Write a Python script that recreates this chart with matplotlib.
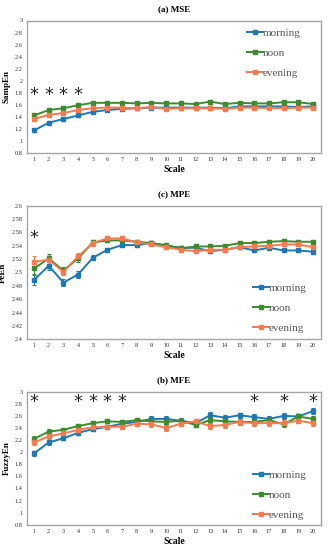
import matplotlib
matplotlib.use("Agg")
import matplotlib.pyplot as plt
from matplotlib.lines import Line2D
import numpy as np

plt.rcParams['font.family'] = ['Liberation Serif', 'DejaVu Serif']

# scale axis
scales = list(range(1, 21))

# (a) MSE - SampEn
mse_morning = [1.17, 1.30, 1.36, 1.42, 1.48, 1.51, 1.53, 1.54, 1.55, 1.55,
               1.55, 1.55, 1.55, 1.54, 1.57, 1.57, 1.57, 1.57, 1.56, 1.57]
mse_noon = [1.42, 1.51, 1.54, 1.59, 1.63, 1.63, 1.63, 1.62, 1.63, 1.62,
            1.62, 1.61, 1.65, 1.61, 1.63, 1.62, 1.62, 1.64, 1.64, 1.61]
mse_evening = [1.36, 1.43, 1.46, 1.51, 1.54, 1.55, 1.55, 1.54, 1.56, 1.53,
               1.54, 1.54, 1.54, 1.53, 1.55, 1.55, 1.54, 1.54, 1.55, 1.55]
mse_err = [0.03, 0.025, 0.025, 0.025, 0.025, 0.02, 0.02, 0.02, 0.02, 0.02,
           0.02, 0.02, 0.02, 0.02, 0.02, 0.02, 0.02, 0.02, 0.02, 0.02]
mse_stars = [1, 2, 3, 4]

# (c) MPE - PeEn
mpe_morning = [2.489, 2.510, 2.485, 2.497, 2.522, 2.534, 2.541, 2.541, 2.544, 2.540,
               2.537, 2.537, 2.532, 2.534, 2.538, 2.533, 2.537, 2.533, 2.533, 2.531]
mpe_noon = [2.506, 2.521, 2.503, 2.521, 2.545, 2.548, 2.548, 2.546, 2.544, 2.541,
            2.536, 2.539, 2.539, 2.540, 2.544, 2.544, 2.546, 2.547, 2.546, 2.546]
mpe_evening = [2.516, 2.519, 2.501, 2.524, 2.544, 2.551, 2.551, 2.545, 2.542, 2.538,
               2.534, 2.532, 2.534, 2.534, 2.538, 2.539, 2.540, 2.542, 2.542, 2.538]
mpe_err = [0.008, 0.006, 0.005, 0.005, 0.004, 0.003, 0.003, 0.003, 0.003, 0.003,
           0.003, 0.003, 0.003, 0.003, 0.003, 0.003, 0.003, 0.003, 0.003, 0.003]
mpe_stars = [1]

# (b) MFE - FuzzyEn
mfe_morning = [1.98, 2.16, 2.23, 2.32, 2.38, 2.42, 2.47, 2.50, 2.55, 2.55,
               2.52, 2.48, 2.61, 2.57, 2.61, 2.58, 2.55, 2.60, 2.59, 2.68]
mfe_noon = [2.22, 2.34, 2.37, 2.43, 2.48, 2.51, 2.50, 2.53, 2.51, 2.50,
            2.52, 2.45, 2.53, 2.51, 2.50, 2.50, 2.53, 2.46, 2.59, 2.55]
mfe_evening = [2.16, 2.26, 2.31, 2.37, 2.41, 2.42, 2.42, 2.47, 2.46, 2.40,
               2.47, 2.51, 2.43, 2.45, 2.50, 2.48, 2.48, 2.48, 2.52, 2.48]
mfe_err = [0.04, 0.035, 0.035, 0.035, 0.035, 0.035, 0.04, 0.04, 0.045, 0.045,
           0.04, 0.04, 0.05, 0.05, 0.045, 0.045, 0.04, 0.045, 0.045, 0.05]
mfe_stars = [1, 4, 5, 6, 7, 16, 18, 20]

colors = {'morning': '#1F77B4', 'noon': '#3D8B2F', 'evening': '#F47A50'}


def fmt(v):
    s = ('%.2f' % v).rstrip('0').rstrip('.')
    return s


def panel(ax, title, ylabel, data, err, yticks, star_y, stars, leg_anchor):
    handles = []
    for name, vals in data:
        ax.errorbar(scales, vals, yerr=err, color=colors[name], marker='s',
                    markersize=2.5, linewidth=1.4, elinewidth=0.8, capsize=1.6,
                    capthick=0.8)
        handles.append(Line2D([], [], color=colors[name], marker='s',
                              markersize=2.5, linewidth=1.4, label=name))
    for s in stars:
        ax.text(s, star_y, '*', ha='center', va='center', fontsize=13,
                family='DejaVu Sans', color='#222222')
    ax.set_xlim(0.5, 20.55)
    ax.set_ylim(yticks[0], yticks[-1])
    ax.set_xticks(scales)
    ax.set_yticks(yticks)
    ax.set_yticklabels([fmt(v) for v in yticks])
    ax.tick_params(length=0, labelsize=4.5, pad=3, colors='#333333')
    for sp in ax.spines.values():
        sp.set_color('#A6A6A6')
        sp.set_linewidth(1.0)
    ax.set_title(title, fontsize=6.5, fontweight='bold', pad=7)
    ax.set_ylabel(ylabel, fontsize=6.5, fontweight='bold', labelpad=3)
    ax.set_xlabel('Scale', fontsize=7, fontweight='bold', labelpad=2)
    leg = ax.legend(handles=handles, loc='upper left', bbox_to_anchor=leg_anchor,
                    frameon=False, fontsize=8, handlelength=1.4, handletextpad=0.0,
                    labelspacing=0.9, borderpad=0, borderaxespad=0)
    for t in leg.get_texts():
        t.set_color('#595959')


fig = plt.figure(figsize=(3.28, 5.5), dpi=100)
W, H = 328.0, 550.0
left, right = 26.7, 321.0

ax1 = fig.add_axes([left / W, 1 - 152.7 / H, (right - left) / W, (152.7 - 20.5) / H])
ax2 = fig.add_axes([left / W, 1 - 339.3 / H, (right - left) / W, (339.3 - 205.7) / H])
ax3 = fig.add_axes([left / W, 1 - 524.7 / H, (right - left) / W, (524.7 - 391.7) / H])

panel(ax1, '(a) MSE', 'SampEn',
      [('morning', mse_morning), ('noon', mse_noon), ('evening', mse_evening)],
      mse_err, np.round(np.arange(0.8, 3.01, 0.2), 2), 1.76, mse_stars, (0.75, 0.94))
panel(ax2, '(c) MPE', 'PeEn',
      [('morning', mpe_morning), ('noon', mpe_noon), ('evening', mpe_evening)],
      mpe_err, np.round(np.arange(2.4, 2.601, 0.02), 2), 2.551, mpe_stars, (0.77, 0.42))
panel(ax3, '(b) MFE', 'FuzzyEn',
      [('morning', mfe_morning), ('noon', mfe_noon), ('evening', mfe_evening)],
      mfe_err, np.round(np.arange(0.8, 3.01, 0.2), 2), 2.83, mfe_stars, (0.77, 0.41))

fig.savefig('out.png', dpi=100)
